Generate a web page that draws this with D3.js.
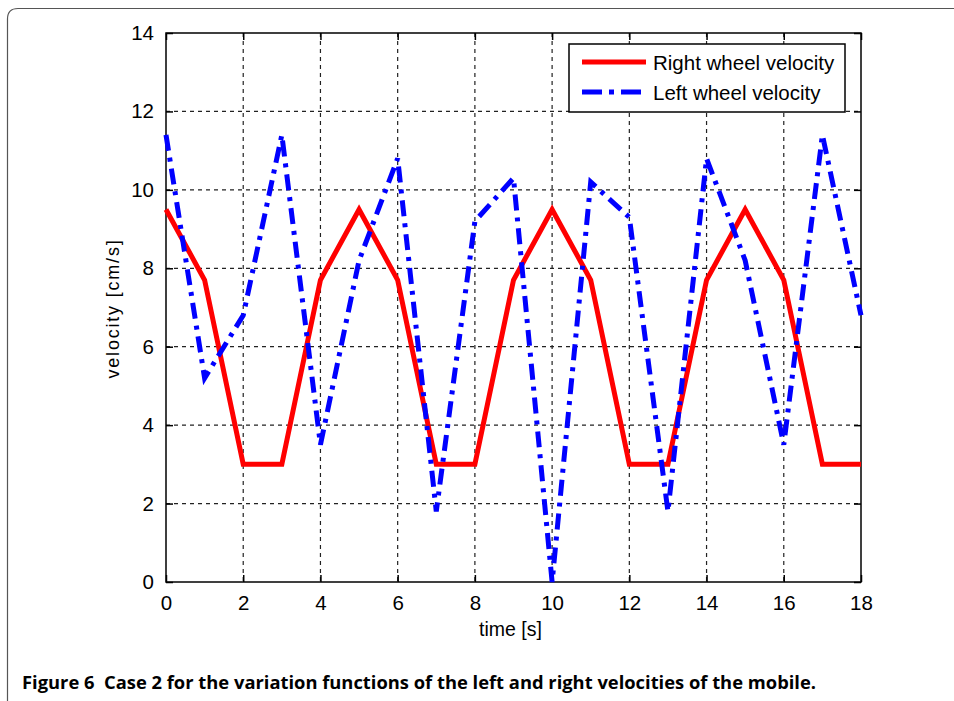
<!DOCTYPE html>
<html>
<head>
<meta charset="utf-8">
<script src="https://cdnjs.cloudflare.com/ajax/libs/d3/7.8.5/d3.min.js"></script>
<style>
    body { margin: 0; background: #fff; }
    svg { display: block; }
</style>
</head>
<body>
<svg id="chart" width="954" height="701"></svg>
<script>
// time samples [s]
var timeValues = [0, 1, 2, 3, 4, 5, 6, 7, 8, 9, 10, 11, 12, 13, 14, 15, 16, 17, 18];
// right wheel velocity [cm/s]
var rightWheel = [9.5, 7.7, 3, 3, 7.7, 9.5, 7.7, 3, 3, 7.7, 9.5, 7.7, 3, 3, 7.7, 9.5, 7.7, 3, 3];
// left wheel velocity [cm/s]
var leftWheel = [11.4, 5.2, 6.8, 11.4, 3.5, 8.2, 10.8, 1.8, 9.2, 10.3, 0, 10.2, 9.3, 1.8, 10.8, 8.2, 3.5, 11.4, 6.8];
var xTicks = [0, 2, 4, 6, 8, 10, 12, 14, 16, 18];
var yTicks = [0, 2, 4, 6, 8, 10, 12, 14];
var seriesNames = ["Right wheel velocity", "Left wheel velocity"];
var caption = "Figure 6  Case 2 for the variation functions of the left and right velocities of the mobile.";

var svg = d3.select("#chart");

var margin = { top: 33, right: 93, bottom: 119, left: 166 },
    width = 954 - margin.left - margin.right,
    height = 701 - margin.top - margin.bottom;

// figure frame (rounded corner at top left)
svg.append("path")
    .attr("d", "M7.5,701 L7.5,19 Q7.5,8.5 18,8.5 L954,8.5")
    .attr("fill", "none")
    .attr("stroke", "#555")
    .attr("stroke-width", 1.2);

var x = d3.scaleLinear().domain([0, 18]).range([0, width]);
var y = d3.scaleLinear().domain([0, 14]).range([height, 0]);

var g = svg.append("g")
    .attr("transform", "translate(" + margin.left + "," + margin.top + ")");

// grid
g.append("g").selectAll("line").data(xTicks.slice(1, -1)).enter().append("line")
    .attr("x1", d => x(d)).attr("x2", d => x(d))
    .attr("y1", 0).attr("y2", height)
    .attr("stroke", "#222").attr("stroke-width", 1.2)
    .attr("stroke-dasharray", "4,4");
g.append("g").selectAll("line").data(yTicks.slice(1, -1)).enter().append("line")
    .attr("y1", d => y(d)).attr("y2", d => y(d))
    .attr("x1", 0).attr("x2", width)
    .attr("stroke", "#222").attr("stroke-width", 1.2)
    .attr("stroke-dasharray", "4,4");

// axes with inward ticks
var fontAxis = "'Liberation Sans', Arial, sans-serif";
var xAxis = d3.axisBottom(x).tickValues(xTicks).tickSizeInner(-7).tickSizeOuter(0).tickPadding(13);
var yAxis = d3.axisLeft(y).tickValues(yTicks).tickSizeInner(-7).tickSizeOuter(0).tickPadding(12);
var xAxisTop = d3.axisTop(x).tickValues(xTicks).tickSizeInner(-7).tickSizeOuter(0).tickFormat("");
var yAxisRight = d3.axisRight(y).tickValues(yTicks).tickSizeInner(-7).tickSizeOuter(0).tickFormat("");

var gx = g.append("g").attr("transform", "translate(0," + height + ")").call(xAxis);
var gy = g.append("g").call(yAxis);
g.append("g").call(xAxisTop);
g.append("g").attr("transform", "translate(" + width + ",0)").call(yAxisRight);

g.selectAll(".domain").remove();
g.selectAll(".tick line").attr("stroke", "#000").attr("stroke-width", 1.5);
g.selectAll(".tick text")
    .attr("fill", "#000")
    .style("font-family", fontAxis)
    .style("font-size", "20.5px");

// box
g.append("rect")
    .attr("width", width).attr("height", height)
    .attr("fill", "none").attr("stroke", "#000").attr("stroke-width", 1.5);

// lines
var line = d3.line()
    .x((d, i) => x(timeValues[i]))
    .y(d => y(d));

g.append("path")
    .datum(rightWheel)
    .attr("d", line)
    .attr("fill", "none")
    .attr("stroke", "#ff0000")
    .attr("stroke-width", 5);

g.append("path")
    .datum(leftWheel)
    .attr("d", line)
    .attr("fill", "none")
    .attr("stroke", "#0000ff")
    .attr("stroke-width", 5)
    .attr("stroke-dasharray", "16,7,4,7");

// axis labels
g.append("text")
    .attr("x", x(9) - 3).attr("y", height + 54)
    .attr("text-anchor", "middle")
    .style("font-family", fontAxis).style("font-size", "19.5px")
    .text("time [s]");

g.append("text")
    .attr("transform", "translate(" + (-47) + "," + (height / 2 + 1) + ") rotate(-90)")
    .attr("text-anchor", "middle")
    .style("font-family", fontAxis).style("font-size", "18px")
    .style("letter-spacing", "1.8px")
    .text("velocity [cm/s]");

// legend
var legend = g.append("g").attr("transform", "translate(" + (x(18) - 292) + ",11)");
legend.append("rect")
    .attr("width", 276).attr("height", 68)
    .attr("fill", "#fff").attr("stroke", "#000").attr("stroke-width", 1.5);
var legendStyles = [
    { color: "#ff0000", dash: null },
    { color: "#0000ff", dash: "20,7,5,7" }
];
seriesNames.forEach((name, i) => {
    var ly = 18 + i * 30;
    legend.append("line")
        .attr("x1", 13).attr("x2", 77)
        .attr("y1", ly).attr("y2", ly)
        .attr("stroke", legendStyles[i].color)
        .attr("stroke-width", 5)
        .attr("stroke-dasharray", legendStyles[i].dash);
    legend.append("text")
        .attr("x", 84).attr("y", ly + 8)
        .style("font-family", fontAxis).style("font-size", "20.5px")
        .text(name);
});

// caption
svg.append("text")
    .attr("x", 22).attr("y", 689)
    .attr("textLength", 794)
    .attr("lengthAdjust", "spacingAndGlyphs")
    .style("white-space", "pre")
    .style("font-family", "'Open Sans', 'Noto Sans', sans-serif")
    .style("font-weight", "bold")
    .style("font-size", "18px")
    .text(caption);
</script>
</body>
</html>
